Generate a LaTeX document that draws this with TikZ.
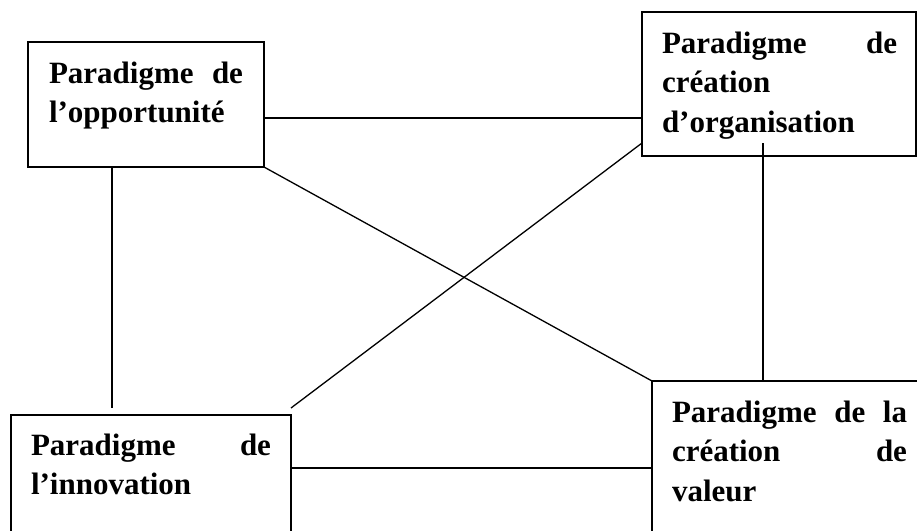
\documentclass[tikz,border=0pt]{standalone}
\usepackage{fontspec}
\setmainfont{Liberation Serif}
\begin{document}
\begin{tikzpicture}[x=1pt,y=-1pt,
  box/.style={draw, line width=1.6pt, inner sep=0pt, outer sep=0pt, anchor=north west},
  link/.style={line width=1.3pt},
  lbl/.style={anchor=base west, inner sep=0pt, outer sep=0pt, font=\fontsize{31}{39.5}\selectfont\bfseries}]
\useasboundingbox (0,0) rectangle (917,530);
\clip (0,0) rectangle (917,530);
% boxes
\node[box, minimum width=236pt, minimum height=125pt] (A) at (28,42) {};
\node[box, minimum width=274pt, minimum height=144pt] (B) at (642,12) {};
\node[box, minimum width=280pt, minimum height=140pt] (C) at (11,415) {};
\node[box, minimum width=280pt, minimum height=170pt] (D) at (652,381) {};
% labels
\node[lbl] (At) at (49,83) {\parbox[t]{194pt}{\makebox[\linewidth][s]{Paradigme de}\\l’opportunité}};
\node[lbl] (Bt) at (662,53) {\parbox[t]{235pt}{\makebox[\linewidth][s]{Paradigme de}\\création\\d’organisation}};
\node[lbl] (Ct) at (31,455) {\parbox[t]{240pt}{\makebox[\linewidth][s]{Paradigme de}\\l’innovation}};
\node[lbl] (Dt) at (672,422) {\parbox[t]{235pt}{\makebox[\linewidth][s]{Paradigme de la}\\\makebox[\linewidth][s]{création de}\\valeur}};
% connectors
\draw[link] (A.east |- 0,118) -- (B.west |- 0,118);
\draw[link] (A.south east) -- (D.north west);
\draw[link] (A.south -| 112,0) -- ([yshift=7pt]C.north -| 112,0);
\draw[link] ([yshift=7pt]C.north east) -- (B.west |- 0,143);
\draw[link] ([yshift=13pt]B.south -| 763,0) -- (D.north -| 763,0);
\draw[link] (C.east |- 0,468) -- (D.west |- 0,468);
\end{tikzpicture}
\end{document}
